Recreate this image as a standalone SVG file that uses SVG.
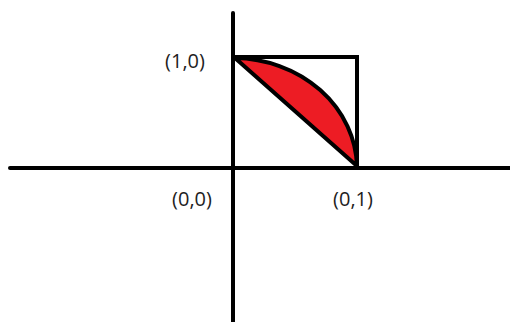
<svg xmlns="http://www.w3.org/2000/svg" width="510" height="322" viewBox="0 0 510 322">
<style>
.ln{stroke:#000;stroke-width:4;fill:none;stroke-linecap:round}
.lb{font-family:"Open Sans","Liberation Sans",sans-serif;font-size:20px;fill:#1e1e1e;text-anchor:middle}
</style>
<rect width="510" height="322" fill="#fff"/>
<g id="axes">
<line class="ln" x1="10" y1="168" x2="512" y2="168"/>
<line class="ln" x1="233" y1="13" x2="233" y2="324"/>
</g>
<g id="square">
<polyline class="ln" points="233,57 357,57 357,168" style="stroke-linecap:butt"/>
</g>
<g id="segment">
<path d="M235,58 A124,111 0 0 1 357,166 Z" fill="#ed1c24" stroke="#000" stroke-width="4" stroke-linejoin="round"/>
</g>
<g id="labels">
<text class="lb" x="185" y="68">(1,0)</text>
<text class="lb" x="192" y="206">(0,0)</text>
<text class="lb" x="353" y="206">(0,1)</text>
</g>
</svg>
